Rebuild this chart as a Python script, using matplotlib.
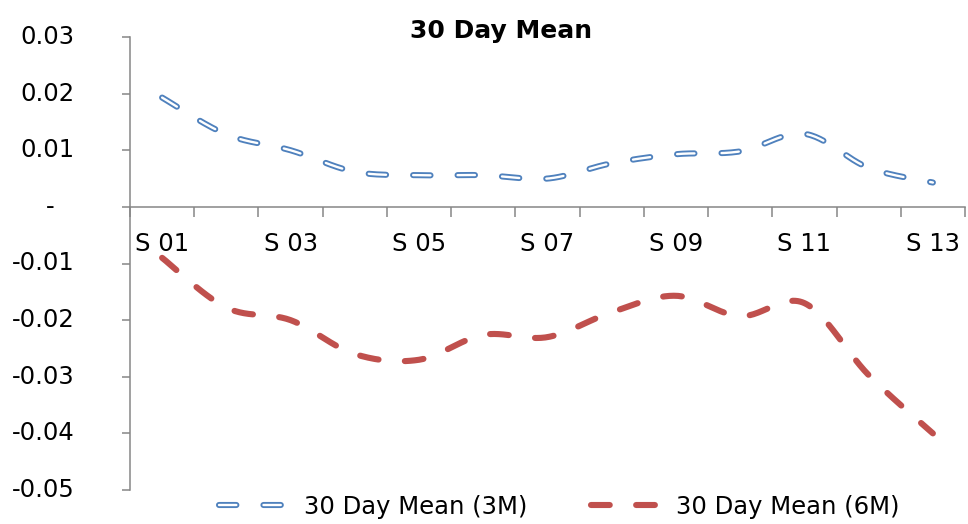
import numpy as np
import matplotlib
matplotlib.use("Agg")
import matplotlib.pyplot as plt
from matplotlib.legend_handler import HandlerTuple
from matplotlib.transforms import blended_transform_factory

plt.rcParams['font.family'] = ['DejaVu Sans']
plt.rcParams['lines.scale_dashes'] = False

categories = ["S 01", "S 02", "S 03", "S 04", "S 05", "S 06", "S 07",
              "S 08", "S 09", "S 10", "S 11", "S 12", "S 13"]
mean_3m = [0.0193, 0.0128, 0.0100, 0.0062, 0.0056, 0.0056, 0.0050,
           0.0077, 0.0093, 0.0098, 0.0129, 0.0069, 0.0043]
mean_6m = [-0.0090, -0.0178, -0.0200, -0.0260, -0.0270, -0.0226, -0.0230,
           -0.0186, -0.0157, -0.0193, -0.0170, -0.0297, -0.0400]
series_names = ["30 Day Mean (3M)", "30 Day Mean (6M)"]
y_ticks = [0.03, 0.02, 0.01, 0.0, -0.01, -0.02, -0.03, -0.04, -0.05]
y_tick_labels = ["0.03", "0.02", "0.01", "-", "-0.01", "-0.02", "-0.03", "-0.04", "-0.05"]
title = "30 Day Mean"

BLUE = "#4F81BD"
RED = "#C0504D"
GRAY = "#868686"


def smooth(xs, ys, n=30):
    """Catmull-Rom style Bezier smoothing (like Excel's smoothed line)."""
    p = np.column_stack([xs, ys]).astype(float)
    pp = np.vstack([p[0], p, p[-1]])
    out = []
    t = np.linspace(0, 1, n)[:, None]
    for i in range(len(p) - 1):
        p0, p1, p2, p3 = pp[i], pp[i + 1], pp[i + 2], pp[i + 3]
        c1 = p1 + (p2 - p0) / 6.0
        c2 = p2 - (p3 - p1) / 6.0
        seg = ((1 - t) ** 3) * p1 + 3 * ((1 - t) ** 2) * t * c1 + 3 * (1 - t) * t ** 2 * c2 + t ** 3 * p2
        out.append(seg if i == 0 else seg[1:])
    s = np.vstack(out)
    return s[:, 0], s[:, 1]


fig = plt.figure(figsize=(9.68, 5.24), dpi=100)
ax = fig.add_axes([130 / 968, 1 - 490 / 524, 835 / 968, (490 - 37) / 524])

x = np.arange(len(categories))

bx, by = smooth(x, mean_3m)
rx, ry = smooth(x, mean_6m)

dash_b = (12.5, 19.5)
dash_r = (13.5, 19.0)
outer, = ax.plot(bx, by, color=BLUE, lw=4.4, dashes=dash_b, dash_capstyle='round', zorder=3)
inner, = ax.plot(bx, by, color='white', lw=1.7, dashes=dash_b, dash_capstyle='round', zorder=4)
red, = ax.plot(rx, ry, color=RED, lw=4.4, dashes=dash_r, dash_capstyle='round', zorder=3)

ax.set_xlim(-0.5, len(categories) - 0.5)
ax.set_ylim(-0.05, 0.03)

# spines
for s in ['top', 'right']:
    ax.spines[s].set_visible(False)
ax.spines['left'].set_color(GRAY)
ax.spines['left'].set_linewidth(1.1)
ax.spines['bottom'].set_position(('data', 0))
ax.spines['bottom'].set_color(GRAY)
ax.spines['bottom'].set_linewidth(1.1)

# x ticks: marks between categories, labels on odd categories
ax.set_xticks(np.arange(-0.5, len(categories), 1.0))
ax.set_xticklabels([])
ax.set_xticks(x[::2], minor=True)
ax.set_xticklabels(categories[::2], minor=True)
ax.tick_params(axis='x', which='major', direction='out', length=7, width=1.1, color=GRAY)
ax.tick_params(axis='x', which='minor', length=0, pad=18, labelsize=17.5)

# y ticks
ax.set_yticks(y_ticks)
ax.set_yticklabels([])
ax.tick_params(axis='y', direction='out', length=6, width=1.1, color=GRAY)
trans = blended_transform_factory(ax.transAxes, ax.transData)
for v, lab in zip(y_ticks, y_tick_labels):
    if lab == "-":
        ax.text((50 - 130) / 835, v, lab, transform=trans, ha='center', va='center', fontsize=17.5)
    else:
        ax.text((75 - 130) / 835, v, lab, transform=trans, ha='right', va='center', fontsize=17.5)

fig.text(501 / 968, 1 - 31 / 524, title, ha='center', va='center', fontsize=18, fontweight='bold')

leg = fig.legend([(outer, inner), red], series_names,
                 handler_map={tuple: HandlerTuple(ndivide=1)},
                 loc='center', bbox_to_anchor=(0.578, 1 - 507 / 524), bbox_transform=fig.transFigure,
                 ncol=2, frameon=False, fontsize=17.5, handlelength=3.0, handletextpad=0.5,
                 columnspacing=2.6, borderpad=0)

fig.savefig("out.png", dpi=100)
